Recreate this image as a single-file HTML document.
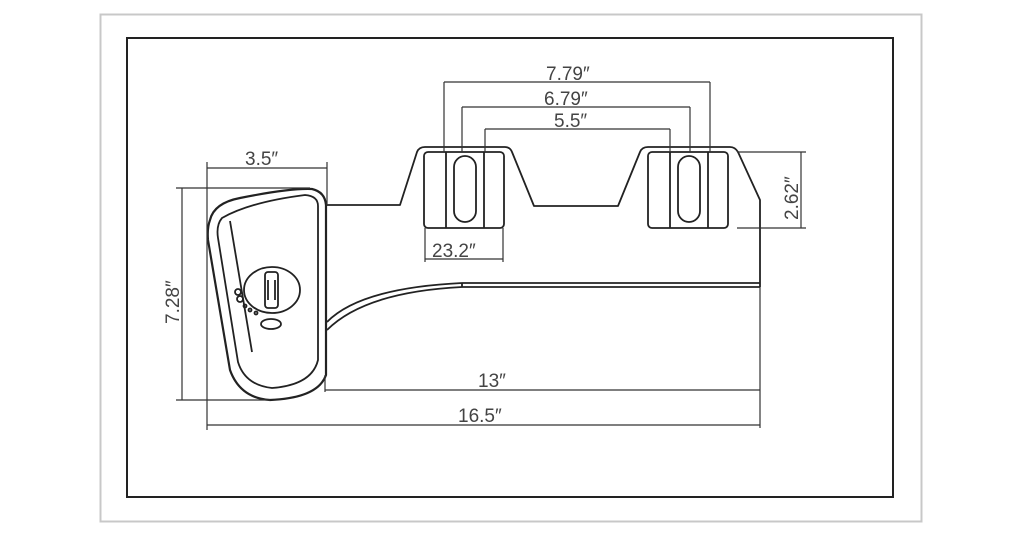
<!DOCTYPE html>
<html><head><meta charset="utf-8"><style>
html,body{margin:0;padding:0;background:#fff;}
svg{display:block}
text{font-family:"Liberation Sans",sans-serif;fill:#444;}
</style></head><body>
<svg width="1024" height="536" viewBox="0 0 1024 536" xmlns="http://www.w3.org/2000/svg">
<rect x="0" y="0" width="1024" height="536" fill="#fff"/>
<rect x="100.5" y="14.5" width="821" height="507" fill="none" stroke="#c8c8c8" stroke-width="2"/>
<rect x="127" y="38" width="766" height="459" fill="none" stroke="#222" stroke-width="2"/>
<g fill="none" stroke="#222" stroke-width="1.8" stroke-linejoin="round">
<path d="M325 205 L400 205 L417 152 Q419 147 425 147 L505 147 Q510 147 512 152 L534 206 L618 206 L640 152 Q642 147 648 147 L730 147 Q735 147 738 152 L760 200 L760 287"/>
<path d="M462 283 L760 283"/>
<path d="M462 287 L760 287"/>
<path d="M462 283 L462 287"/>
<path d="M327 322 Q360 288 462 283"/>
<path d="M327 330 Q365 292 462 287"/>
<rect x="424" y="152" width="80" height="76" rx="4"/>
<line x1="446" y1="152" x2="446" y2="228"/>
<line x1="484" y1="152" x2="484" y2="228"/>
<rect x="454" y="156" width="22" height="66" rx="11"/>
<rect x="648" y="152" width="80" height="76" rx="4"/>
<line x1="670" y1="152" x2="670" y2="228"/>
<line x1="708" y1="152" x2="708" y2="228"/>
<rect x="678" y="156" width="22" height="66" rx="11"/>
<path d="M210 220 Q214 203 240 198 Q290 188 312 189 Q325 192 326 205 L326 375 Q318 398 270 400 Q240 398 230 370 L208 240 Q207 228 210 220 Z" stroke-width="2.2"/>
<path d="M222 218 Q250 202 305 195 Q318 196 318 206 L318 360 Q312 385 272 388 Q245 385 238 362 L218 238 Q216 225 222 218 Z"/>
<path d="M230 221 L252 352"/>
<ellipse cx="272" cy="290" rx="28" ry="23"/>
<rect x="265" y="272" width="13" height="36" rx="3"/>
<line x1="268" y1="280" x2="268" y2="300"/><line x1="275" y1="280" x2="275" y2="300"/>
<circle cx="238" cy="292" r="3"/><circle cx="240" cy="299" r="3"/>
<circle cx="245" cy="306" r="1.5"/><circle cx="250" cy="310" r="1.5"/><circle cx="256" cy="313" r="1.5"/>
<ellipse cx="271" cy="324" rx="10" ry="5"/>
</g>
<g stroke="#333" stroke-width="1.2" fill="none">
<line x1="444" y1="82" x2="710" y2="82"/>
<line x1="444" y1="82" x2="444" y2="152"/><line x1="710" y1="82" x2="710" y2="152"/>
<line x1="462" y1="107" x2="690" y2="107"/>
<line x1="462" y1="107" x2="462" y2="152"/><line x1="690" y1="107" x2="690" y2="152"/>
<line x1="485" y1="129" x2="670" y2="129"/>
<line x1="485" y1="129" x2="485" y2="152"/><line x1="670" y1="129" x2="670" y2="152"/>
<line x1="737" y1="152" x2="806" y2="152"/><line x1="737" y1="228" x2="806" y2="228"/>
<line x1="801" y1="152" x2="801" y2="228"/>
<line x1="425" y1="228" x2="425" y2="262"/><line x1="503" y1="228" x2="503" y2="262"/>
<line x1="425" y1="259" x2="503" y2="259"/>
<line x1="207" y1="168" x2="327" y2="168"/>
<line x1="207" y1="162" x2="207" y2="430"/><line x1="327" y1="162" x2="327" y2="205"/>
<line x1="176" y1="188" x2="310" y2="188"/><line x1="176" y1="400" x2="270" y2="400"/>
<line x1="182" y1="188" x2="182" y2="400"/>
<line x1="325" y1="375" x2="325" y2="392"/>
<line x1="325" y1="390" x2="760" y2="390"/>
<line x1="760" y1="287" x2="760" y2="428"/>
<line x1="207" y1="425" x2="760" y2="425"/>
</g>
<g font-size="19">
<text x="546" y="80">7.79″</text>
<text x="544" y="105">6.79″</text>
<text x="554" y="127">5.5″</text>
<text x="432" y="257">23.2″</text>
<text x="245" y="165">3.5″</text>
<text x="478" y="387">13″</text>
<text x="458" y="422">16.5″</text>
<text transform="translate(798,220) rotate(-90)">2.62″</text>
<text transform="translate(179,324) rotate(-90)">7.28″</text>
</g>
</svg>
</body></html>
